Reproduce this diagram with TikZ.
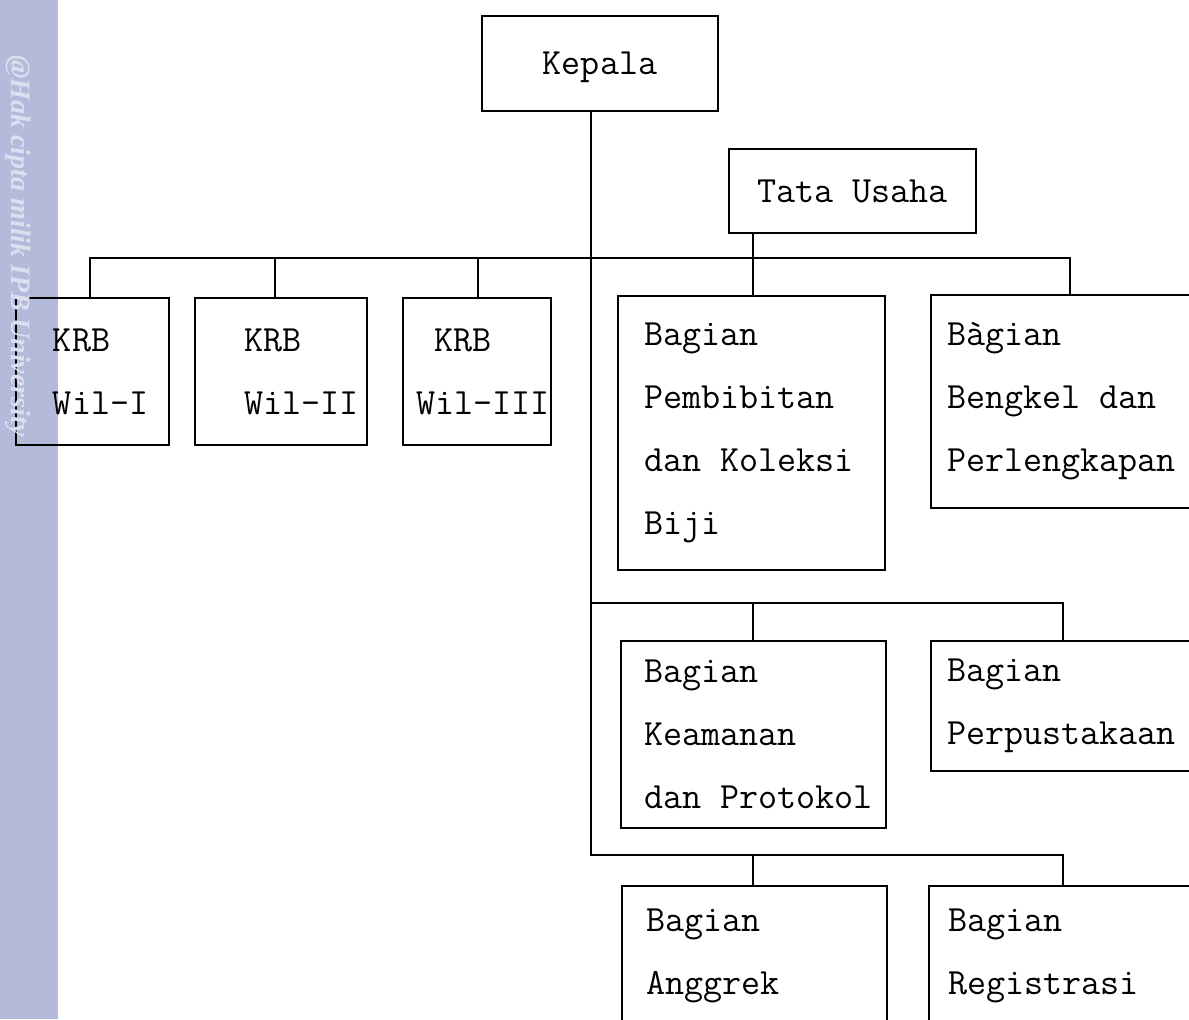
\documentclass[tikz,border=0pt]{standalone}
\usepackage{fontspec}
\newfontfamily\wmfont{Liberation Serif}
\definecolor{wmbar}{RGB}{180,186,218}
\definecolor{wmtext}{RGB}{220,223,239}
\newcommand{\orgfont}{\ttfamily\fontsize{18.5}{31.5}\selectfont}
\begin{document}
\begin{tikzpicture}[x=0.5pt,y=-0.5pt,
  box/.style={draw, line width=1pt, anchor=north west, inner ysep=0pt, font=\orgfont},
  cbox/.style={box, align=center, text depth=0pt},
  lbox/.style={box, align=left, inner xsep=0pt, execute at begin node={\leftskip=#1\spaceskip=\fontdimen2\font\relax}},
  link/.style={line width=1pt}]
  \useasboundingbox (0,0) rectangle (1189,1019);
  \clip (0,0) rectangle (1189,1019);
  \fill[wmbar] (0,0) rectangle (58,1019);

  \node[cbox, minimum width=118pt, minimum height=47.5pt] (kepala) at (481,15) {Kepala};
  \node[cbox, minimum width=123.5pt, minimum height=42pt] (tata) at (728,148) {Tata Usaha};

  \node[lbox=18.5pt, text width=76.5pt, minimum height=73.5pt] (wil1) at (15,297) {KRB\\Wil-I};
  \node[lbox=24.5pt, text width=86pt, minimum height=73.5pt] (wil2) at (194,297) {KRB\\Wil-II};
  \node[lbox=6.5pt, text width=74pt, minimum height=73.5pt] (wil3) at (402,297) {\hspace*{9pt}KRB\\Wil-III};

  \node[lbox=13pt, text width=133.5pt, minimum height=137pt] (pemb) at (617,295) {Bagian\\Pembibitan\\dan Koleksi\\Biji};
  \node[lbox=8pt, text width=145pt, minimum height=106.5pt] (bengkel) at (930,294) {Bàgian\\Bengkel dan\\Perlengkapan};
  \node[lbox=11.5pt, text width=132.5pt, minimum height=93.5pt] (keam) at (620,640) {Bagian\\Keamanan\\dan Protokol};
  \node[lbox=8pt, text width=145pt, minimum height=65pt] (perpus) at (930,640) {Bagian\\Perpustakaan};
  \node[lbox=12pt, text width=132.5pt, minimum height=70pt] (anggrek) at (621,885) {Bagian\\Anggrek};
  \node[lbox=9.5pt, text width=146pt, minimum height=70pt] (regis) at (928,885) {Bagian\\Registrasi};

  % bus lines
  \coordinate (top) at (591,258);
  \coordinate (mid) at (591,603);
  \coordinate (bot) at (591,855);

  \draw[link] (kepala.south -| top) -- (bot) -| (regis.north -| 1063,0);
  \draw[link] (wil1.north -| 90,0) |- (top) -- (1070,258) -- (bengkel.north -| 1070,0);
  \foreach \unit/\xpos in {wil2/275, wil3/478}
    \draw[link] (\unit.north -| \xpos,0) -- (\xpos,258);
  \draw[link] (tata.south -| 753,0) -- (pemb.north -| 753,0);
  \draw[link] (mid) -| (perpus.north -| 1063,0);
  \draw[link] (mid -| 753,0) -- (keam.north -| 753,0);
  \draw[link] (bot -| 753,0) -- (anggrek.north -| 753,0);

  \node[rotate=-90, inner sep=0pt, text=wmtext, font=\wmfont\bfseries\itshape\fontsize{14}{14}\selectfont] (wm) at (18,246) {@Hak cipta milik IPB University};
\end{tikzpicture}
\end{document}
